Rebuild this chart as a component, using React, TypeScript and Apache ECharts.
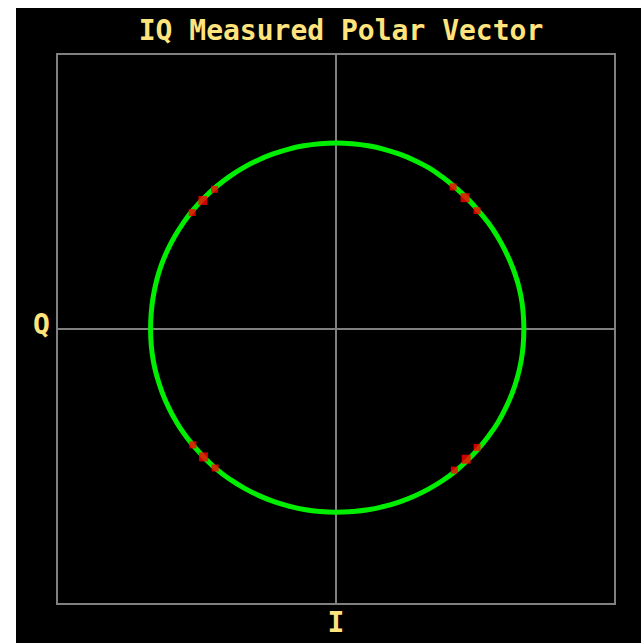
import React, { useEffect, useRef } from "react";
import * as echarts from "echarts";

const TITLE = "IQ Measured Polar Vector";
const X_LABEL = "I";
const Y_LABEL = "Q";

// measured vector trace: angle (deg) and magnitude
const traceAngles = [0, 5, 10, 15, 20, 25, 30, 35, 40, 45, 50, 55, 60, 65, 70, 75, 80, 85, 90, 95, 100, 105, 110, 115, 120, 125, 130, 135, 140, 145, 150, 155, 160, 165, 170, 175, 180, 185, 190, 195, 200, 205, 210, 215, 220, 225, 230, 235, 240, 245, 250, 255, 260, 265, 270, 275, 280, 285, 290, 295, 300, 305, 310, 315, 320, 325, 330, 335, 340, 345, 350, 355, 360];
const traceMagnitudes = [1.01, 1.01, 1.01, 1.008, 1.005, 1.002, 1.0, 0.998, 0.995, 0.995, 0.995, 0.997, 1.0, 1.0, 1.0, 1.0, 1.0, 1.0, 1.0, 1.0, 1.0, 1.0, 1.0, 1.0, 1.0, 1.0, 1.0, 1.0, 1.0, 1.0, 1.0, 1.0, 1.0, 0.999, 0.998, 0.997, 0.997, 0.997, 0.997, 0.996, 0.995, 0.994, 0.993, 0.992, 0.99, 0.99, 0.99, 0.989, 0.988, 0.987, 0.986, 0.985, 0.985, 0.985, 0.985, 0.985, 0.987, 0.988, 0.99, 0.992, 0.994, 0.996, 0.998, 0.999, 1.0, 1.002, 1.005, 1.006, 1.008, 1.009, 1.01, 1.01, 1.01];

// symbol points (red)
const symbolAngles = [40, 45.5, 50.5, 131, 136, 141, 219, 224, 229, 310, 315, 320];
const symbolMagnitudes = [0.99, 0.99, 0.99, 0.995, 0.995, 0.995, 0.99, 0.99, 0.99, 0.99, 0.99, 0.99];
const symbolSizes = [7, 9, 7, 7, 9, 7, 7, 9, 7, 7, 9, 7];

const AXIS_MIN = -1.5;
const AXIS_MAX = 1.5;

export default function App() {
  const ref = useRef<HTMLDivElement>(null);
  useEffect(() => {
    if (!ref.current) return;
    const chart = echarts.init(ref.current, null, { renderer: "svg" });
    const yellow = "#ffe47e";
    const gray = "#808080";
    const font = "'DejaVu Sans Mono', monospace";
    const gridLeft = 41, gridRight = 26, gridTop = 46, gridBottom = 39;
    const W = 625, H = 635;
    const cx = gridLeft + (W - gridLeft - gridRight) / 2;
    const cy = gridTop + (H - gridTop - gridBottom) / 2;
    const halfW = (W - gridLeft - gridRight) / 2;
    chart.setOption({
      animation: false,
      backgroundColor: "#000",
      title: {
        text: TITLE,
        left: cx,
        top: 3,
        textAlign: "center",
        textStyle: { color: yellow, fontFamily: font, fontWeight: "bold", fontSize: 28 },
      },
      grid: {
        left: gridLeft, right: gridRight, top: gridTop, bottom: gridBottom,
        show: true, borderColor: gray, borderWidth: 2, backgroundColor: "transparent",
      },
      xAxis: {
        type: "value", min: AXIS_MIN, max: AXIS_MAX,
        axisLine: { show: true, onZero: true, lineStyle: { color: gray, width: 2 } },
        axisTick: { show: false }, axisLabel: { show: false }, splitLine: { show: false },
      },
      yAxis: {
        type: "value", min: AXIS_MIN, max: AXIS_MAX,
        axisLine: { show: true, onZero: true, lineStyle: { color: gray, width: 2 } },
        axisTick: { show: false }, axisLabel: { show: false }, splitLine: { show: false },
      },
      polar: { center: [cx, cy], radius: halfW },
      radiusAxis: { min: 0, max: AXIS_MAX, show: false, axisLine: { show: false }, splitLine: { show: false }, axisLabel: { show: false }, axisTick: { show: false } },
      angleAxis: { type: "value", min: 0, max: 360, startAngle: 0, clockwise: false, show: false, axisLine: { show: false }, splitLine: { show: false }, axisLabel: { show: false }, axisTick: { show: false } },
      graphic: [
        {
          type: "text", x: 25.5, y: 316,
          style: { text: Y_LABEL, fill: yellow, font: `bold 28px ${font}`, textAlign: "center", textVerticalAlign: "middle" },
        },
        {
          type: "text", x: cx, y: 614,
          style: { text: X_LABEL, fill: yellow, font: `bold 28px ${font}`, textAlign: "center", textVerticalAlign: "middle" },
        },
      ],
      series: [
        {
          type: "line",
          coordinateSystem: "polar",
          data: traceAngles.map((a, i) => [traceMagnitudes[i], a]),
          smooth: 0.5,
          showSymbol: false,
          lineStyle: { color: "#00ee00", width: 5 },
          z: 2,
        },
        {
          type: "scatter",
          coordinateSystem: "polar",
          data: symbolAngles.map((a, i) => [symbolMagnitudes[i], a, symbolSizes[i]]),
          symbol: "rect",
          symbolSize: (v: number[]) => v[2],
          itemStyle: { color: "#ff0000" },
          z: 3,
        },
      ],
    });
    return () => chart.dispose();
  }, []);
  return (
    <div style={{ position: "fixed", left: 0, top: 0, width: 641, height: 643, background: "#fff" }}>
      <div ref={ref} style={{ position: "absolute", left: 16, top: 8, width: 625, height: 635 }} />
    </div>
  );
}
